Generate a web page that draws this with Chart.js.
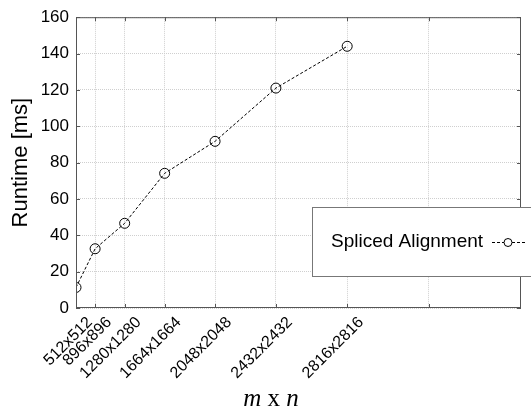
<!DOCTYPE html>
<html>
<head>
<meta charset="utf-8">
<script src="https://cdn.jsdelivr.net/npm/chart.js@4"></script>
<style>
  html, body { margin: 0; padding: 0; background: #fff; }
  #wrap { width: 531px; height: 410px; position: relative; }
</style>
</head>
<body>
<div id="wrap"><canvas id="runtimeChart" width="531" height="410"></canvas></div>
<script>
// Problem sizes (labels) and their pixel counts m*n (x positions)
const sizeLabels = ['512x512', '896x896', '1280x1280', '1664x1664', '2048x2048', '2432x2432', '2816x2816'];
const pixelCounts = [262144, 802816, 1638400, 2768896, 4194304, 5914624, 7929856];
// extra unlabeled grid line and axis end
const extraGrid = [10240000];
const xMin = 262144;
const xMax = 12845056;

// Runtime in ms
const runtimeMs = [11.3, 32.6, 46.6, 74.1, 91.7, 121.0, 144.0];

const yTicks = [0, 20, 40, 60, 80, 100, 120, 140, 160];
const seriesLabel = 'Spliced Alignment';

const points = pixelCounts.map((x, i) => ({ x: x, y: runtimeMs[i] }));

// frame with inward tick marks, like the original plot
const framePlugin = {
    id: 'frame',
    afterDatasetsDraw(chart) {
        const { ctx, chartArea: a, scales } = chart;
        ctx.save();
        ctx.strokeStyle = '#555';
        ctx.lineWidth = 1;
        ctx.strokeRect(a.left + 0.5, a.top + 0.5, a.right - a.left - 1, a.bottom - a.top - 1);
        ctx.beginPath();
        pixelCounts.concat(extraGrid).forEach(v => {
            const px = Math.round(scales.x.getPixelForValue(v)) + 0.5;
            ctx.moveTo(px, a.bottom); ctx.lineTo(px, a.bottom - 4);
            ctx.moveTo(px, a.top); ctx.lineTo(px, a.top + 4);
        });
        yTicks.forEach(v => {
            const py = Math.round(scales.y.getPixelForValue(v)) + 0.5;
            ctx.moveTo(a.left, py); ctx.lineTo(a.left + 4, py);
            ctx.moveTo(a.right, py); ctx.lineTo(a.right - 4, py);
        });
        ctx.stroke();
        ctx.restore();
    }
};

// x axis title "m x n": italic m and n, upright x, centred on the figure
const xTitlePlugin = {
    id: 'xTitle',
    afterDraw(chart) {
        const ctx = chart.ctx;
        const parts = [
            { t: 'm', f: 'italic 25px "Liberation Serif", "Times New Roman", serif' },
            { t: ' x ', f: '25px "Liberation Serif", "Times New Roman", serif' },
            { t: 'n', f: 'italic 25px "Liberation Serif", "Times New Roman", serif' }
        ];
        ctx.save();
        ctx.fillStyle = '#000';
        ctx.textBaseline = 'alphabetic';
        let total = 0;
        parts.forEach(p => { ctx.font = p.f; p.w = ctx.measureText(p.t).width; total += p.w; });
        let x = 271 - total / 2;
        parts.forEach(p => { ctx.font = p.f; ctx.fillText(p.t, x, 406); x += p.w; });
        ctx.restore();
    }
};

// legend box drawn inside the plot, at lower right
const legendPlugin = {
    id: 'boxLegend',
    afterDraw(chart) {
        const ctx = chart.ctx;
        const ds = chart.data.datasets[0];
        ctx.save();
        ctx.fillStyle = '#fff';
        ctx.strokeStyle = '#777';
        ctx.lineWidth = 1;
        ctx.fillRect(312, 207, 230, 69);
        ctx.strokeRect(312.5, 207.5, 230, 69);
        ctx.fillStyle = '#000';
        ctx.font = '19px "Liberation Sans", Arial, sans-serif';
        ctx.textBaseline = 'middle';
        ctx.fillText(ds.label, 331, 242);
        ctx.strokeStyle = '#000';
        ctx.setLineDash([3, 2]);
        ctx.beginPath();
        ctx.moveTo(492, 242.5); ctx.lineTo(526, 242.5);
        ctx.stroke();
        ctx.setLineDash([]);
        ctx.fillStyle = '#fff';
        ctx.beginPath();
        ctx.arc(508, 242.5, 4, 0, Math.PI * 2);
        ctx.fill();
        ctx.stroke();
        ctx.restore();
    }
};

const ctx = document.getElementById('runtimeChart').getContext('2d');
new Chart(ctx, {
    type: 'line',
    data: {
        datasets: [{
            label: seriesLabel,
            data: points,
            borderColor: '#000',
            borderWidth: 1,
            borderDash: [3, 2],
            pointRadius: 5,
            pointBorderWidth: 1,
            pointBackgroundColor: 'rgba(0,0,0,0)',
            pointBorderColor: '#000',
            fill: false,
            tension: 0
        }]
    },
    options: {
        responsive: false,
        animation: false,
        devicePixelRatio: 1,
        layout: { padding: { top: 15, right: 10, left: 0, bottom: 0 } },
        plugins: {
            legend: { display: false },
            tooltip: { enabled: false }
        },
        scales: {
            x: {
                type: 'linear',
                min: xMin,
                max: xMax,
                afterBuildTicks(scale) {
                    scale.ticks = pixelCounts.concat(extraGrid).map(v => ({ value: v }));
                },
                afterFit(scale) { scale.height = 102; },
                grid: {
                    color: '#cfcfcf',
                    drawTicks: false
                },
                border: { display: false, dash: [1, 1] },
                ticks: {
                    autoSkip: false,
                    minRotation: 45,
                    maxRotation: 45,
                    padding: 5,
                    labelOffset: 14,
                    color: '#000',
                    font: { family: '"Liberation Sans", Arial, sans-serif', size: 16 },
                    callback(value) {
                        const i = pixelCounts.indexOf(value);
                        return i >= 0 ? sizeLabels[i] : '';
                    }
                },
                title: { display: false }
            },
            y: {
                min: 0,
                max: 160,
                afterBuildTicks(scale) {
                    scale.ticks = yTicks.map(v => ({ value: v }));
                },
                afterFit(scale) { scale.width = 76; },
                grid: {
                    color: '#cfcfcf',
                    drawTicks: false
                },
                border: { display: false, dash: [1, 1] },
                ticks: {
                    padding: 7,
                    color: '#000',
                    font: { family: '"Liberation Sans", Arial, sans-serif', size: 17 }
                },
                title: {
                    display: true,
                    text: 'Runtime [ms]',
                    color: '#000',
                    font: { family: '"Liberation Sans", Arial, sans-serif', size: 22 },
                    padding: { top: 8, bottom: 4 }
                }
            }
        }
    },
    plugins: [framePlugin, xTitlePlugin, legendPlugin]
});
</script>
</body>
</html>
